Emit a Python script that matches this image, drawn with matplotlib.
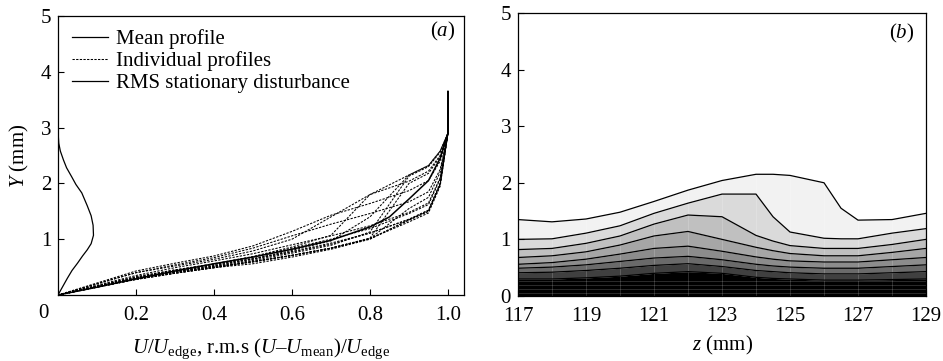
import numpy as np
import matplotlib
matplotlib.use('Agg')
import matplotlib.pyplot as plt
from matplotlib.lines import Line2D

plt.rcParams['font.family'] = ['Liberation Serif', 'DejaVu Serif']
plt.rcParams['mathtext.fontset'] = 'custom'
plt.rcParams['mathtext.rm'] = 'Liberation Serif'
plt.rcParams['mathtext.it'] = 'Liberation Serif:italic'
plt.rcParams['font.size'] = 15

# spanwise stations (mm)
z = [117, 118, 119, 120, 121, 122, 123, 124, 124.5, 125, 126, 126.5, 127, 128, 129]

# heights (mm) where U/U_edge reaches each level, one row per level
levels = [0.2, 0.3, 0.4, 0.5, 0.6, 0.7, 0.8, 0.9]
y02 = [0.30, 0.30, 0.32, 0.35, 0.40, 0.43, 0.40, 0.33, 0.31, 0.30, 0.28, 0.28, 0.28, 0.29, 0.30]
y03 = [0.41, 0.42, 0.45, 0.49, 0.54, 0.57, 0.52, 0.45, 0.43, 0.41, 0.39, 0.39, 0.39, 0.41, 0.43]
y04 = [0.49, 0.51, 0.55, 0.61, 0.67, 0.70, 0.64, 0.56, 0.53, 0.51, 0.49, 0.49, 0.49, 0.52, 0.55]
y05 = [0.56, 0.59, 0.65, 0.74, 0.84, 0.88, 0.79, 0.69, 0.65, 0.62, 0.60, 0.60, 0.60, 0.64, 0.68]
y06 = [0.68, 0.71, 0.78, 0.90, 1.06, 1.14, 1.00, 0.86, 0.80, 0.75, 0.71, 0.71, 0.71, 0.77, 0.84]
y07 = [0.82, 0.84, 0.93, 1.06, 1.27, 1.43, 1.40, 1.07, 0.97, 0.89, 0.84, 0.84, 0.84, 0.91, 1.00]
y08 = [1.00, 1.01, 1.11, 1.24, 1.46, 1.64, 1.80, 1.80, 1.40, 1.13, 1.02, 1.01, 1.01, 1.11, 1.19]
y09 = [1.35, 1.31, 1.36, 1.48, 1.67, 1.87, 2.04, 2.15, 2.15, 2.13, 2.00, 1.55, 1.34, 1.35, 1.46]
# upper part of each profile, used in the velocity-profile panel only
y095 = [1.50, 1.47, 1.52, 1.65, 1.85, 2.05, 2.22, 2.32, 2.32, 2.30, 2.18, 1.75, 1.50, 1.52, 1.62]
y098 = [1.98, 1.95, 2.00, 2.10, 2.25, 2.40, 2.50, 2.58, 2.58, 2.56, 2.48, 2.20, 1.98, 2.00, 2.08]
y_edge = 2.9
y_top = 3.65

band_colors = ['#404040', '#6a6a6a', '#8c8c8c', '#a6a6a6', '#c0c0c0', '#dadada', '#f2f2f2']

mean_u = [0, 0.1, 0.2, 0.3, 0.4, 0.5, 0.6, 0.7, 0.8, 0.85, 0.9, 0.95, 0.98, 1.0, 1.0]
mean_y = [0, 0.14, 0.29, 0.43, 0.56, 0.68, 0.82, 0.98, 1.22, 1.40, 1.72, 2.05, 2.45, 2.9, 3.65]

rms_u = [0, 0.012, 0.024, 0.036, 0.05, 0.063, 0.075, 0.085, 0.091, 0.09, 0.085, 0.075,
         0.061, 0.046, 0.035, 0.022, 0.014, 0.006, 0.002, 0, 0]
rms_y = [0, 0.15, 0.3, 0.44, 0.57, 0.7, 0.81, 0.92, 1.07, 1.25, 1.42, 1.6,
         1.83, 1.98, 2.12, 2.28, 2.42, 2.58, 2.72, 2.94, 3.65]

y_lev = np.array([y02, y03, y04, y05, y06, y07, y08, y09])

fig = plt.figure(figsize=(9.43, 3.61), dpi=100)
ax1 = fig.add_axes([0.0615, 0.1828, 0.4305, 0.7729])
ax2 = fig.add_axes([0.5493, 0.1801, 0.4327, 0.784])

# (a) individual profiles, mean profile and rms
for i in range(len(z)):
    u = [0] + levels + [0.95, 0.98, 1.0, 1.0]
    y = [0] + list(y_lev[:, i]) + [y095[i], y098[i], y_edge, y_top]
    ax1.plot(u, y, color='k', lw=0.75, dashes=(2.2, 1.3))
ax1.plot(mean_u, mean_y, 'k-', lw=1.1)
ax1.plot(rms_u, rms_y, 'k-', lw=0.9)

handles = [Line2D([], [], color='k', lw=0.9),
           Line2D([], [], color='k', lw=0.75, dashes=(2.2, 1.3)),
           Line2D([], [], color='k', lw=0.9)]
ax1.legend(handles, ['Mean profile', 'Individual profiles', 'RMS stationary disturbance'],
           loc='upper left', frameon=False, handlelength=1.75, handletextpad=0.4,
           labelspacing=0.1, borderaxespad=0.35, borderpad=0.3)

ax1.set_xlim(0, 1.041)
ax1.set_ylim(0, 5)
ax1.set_xticks([0.2, 0.4, 0.6, 0.8, 1.0])
ax1.set_xticklabels(['0.2', '0.4', '0.6', '0.8', '1.0'])
ax1.set_yticks([1, 2, 3, 4, 5])
ax1.text(-0.038, -0.33, '0', ha='center', va='center', clip_on=False)
ax1.set_xlabel(r'$U/U_{\rm edge}$, r.m.s ($U$–$U_{\rm mean}$)$/U_{\rm edge}$', labelpad=8)
ax1.set_ylabel('$Y$ (mm)', labelpad=7)
ax1.text(0.948, 0.943, '($a$)', transform=ax1.transAxes, ha='center', va='center')

# (b) contours of U/U_edge
ax2.fill_between(z, 0, y_lev[0], color='black', lw=0)
for j in range(len(levels) - 1):
    ax2.fill_between(z, y_lev[j], y_lev[j + 1], color=band_colors[j], lw=0)
for zz in range(118, 129):
    ax2.axvline(zz, color='white', lw=0.6, alpha=0.2)
for yy in [0.06, 0.13, 0.2, 0.26]:
    ax2.axhline(yy, color='white', lw=0.6, alpha=0.2)
for j in range(len(levels)):
    ax2.plot(z, y_lev[j], 'k-', lw=0.9)

ax2.set_xlim(117, 129)
ax2.set_ylim(0, 5)
ax2.set_xticks([117, 119, 121, 123, 125, 127, 129])
ax2.set_yticks([0, 1, 2, 3, 4, 5])
ax2.set_xlabel('$z$ (mm)', labelpad=6)
ax2.text(0.941, 0.929, '($b$)', transform=ax2.transAxes, ha='center', va='center')

for ax in (ax1, ax2):
    ax.tick_params(direction='in', length=4, width=0.8)
    ax.tick_params(axis='x', pad=8)
    ax.tick_params(axis='y', pad=5)
    for s in ax.spines.values():
        s.set_linewidth(0.9)

fig.savefig('out.png', dpi=100)
